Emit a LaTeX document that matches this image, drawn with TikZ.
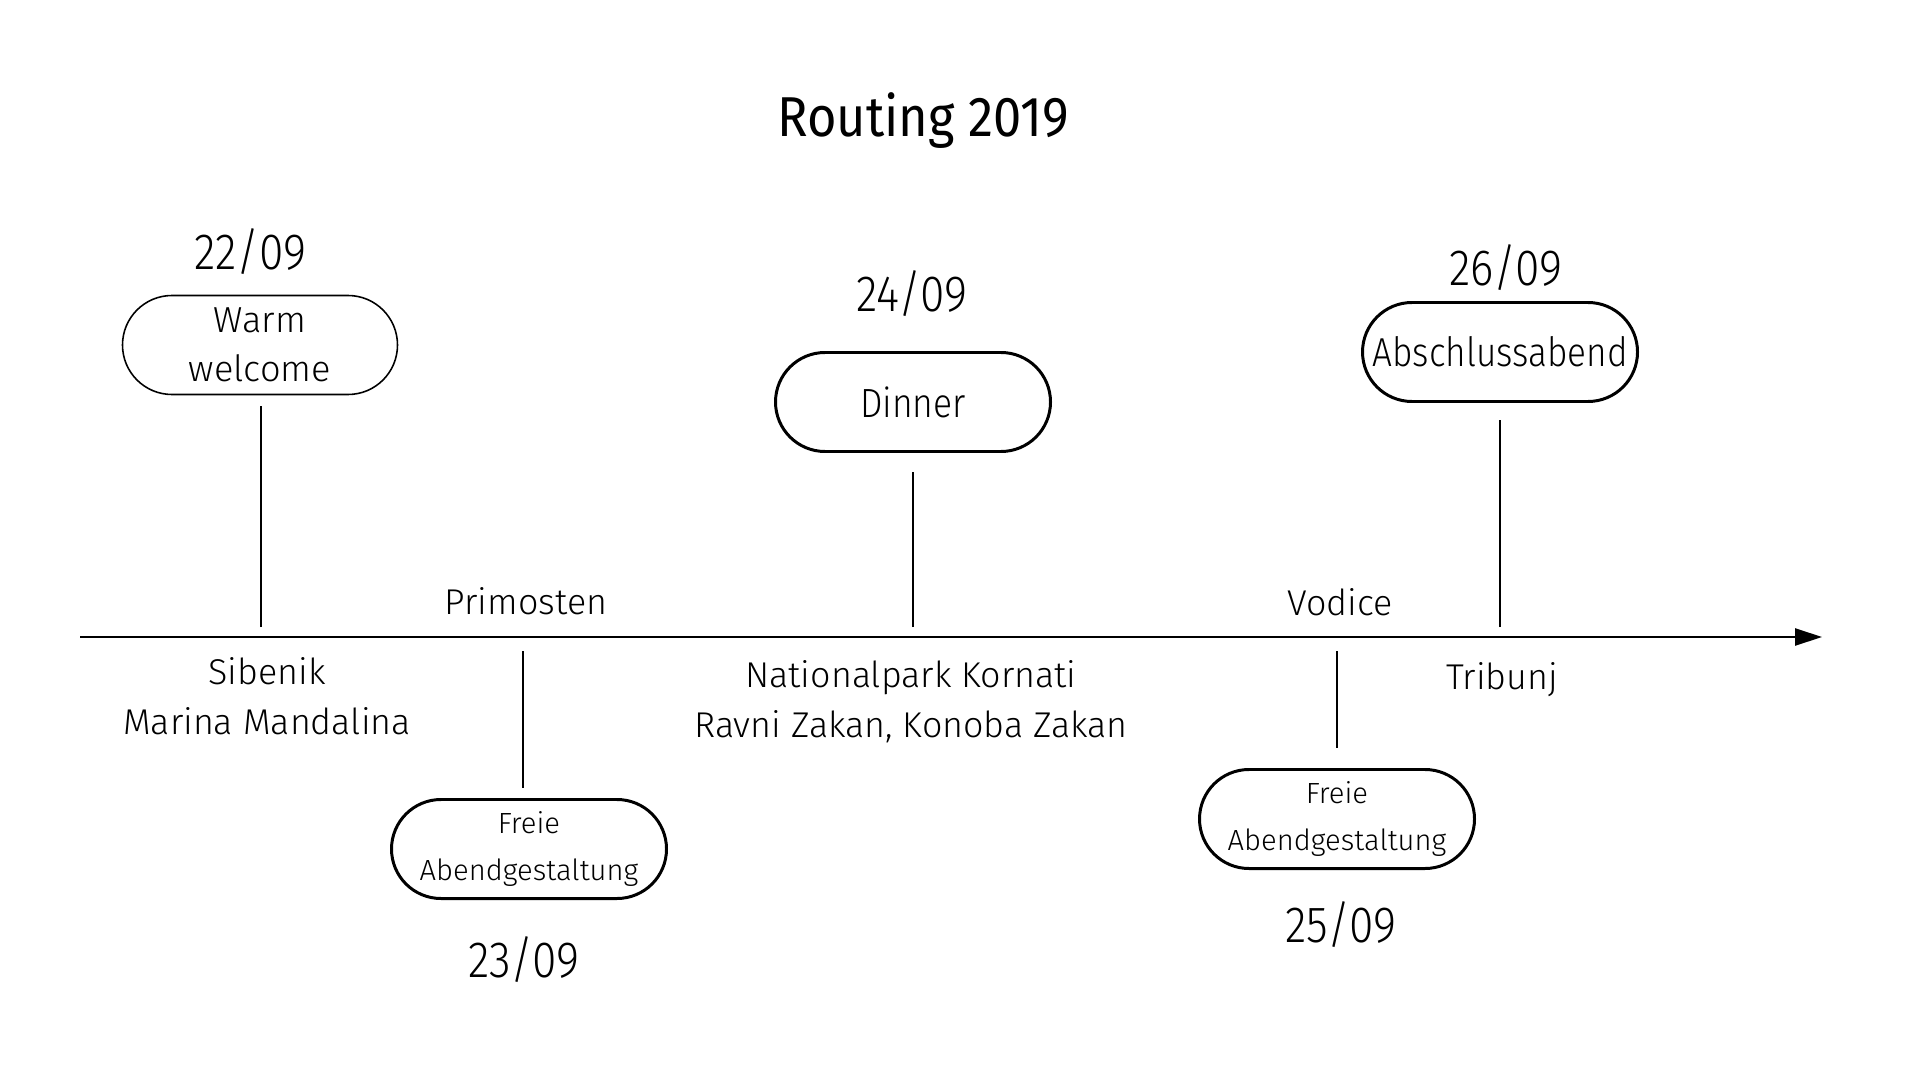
\documentclass[tikz,border=0pt]{standalone}
\usepackage{fontspec}
\setmainfont{Fira Sans Light}
\newfontfamily\titlefont{Fira Sans}[FakeStretch=0.9]
\newfontfamily\narrowfont{Fira Sans Light}[FakeStretch=0.87]
\usetikzlibrary{arrows.meta,shapes.misc}

\tikzset{
  event/.style={draw,rounded rectangle,line width=0.85pt,minimum width=2.75cm,
    minimum height=0.99cm,inner sep=0pt,align=center},
  stem/.style={line width=0.5pt},
  datum/.style={anchor=base,font=\narrowfont\fontsize{14.5}{17}\selectfont},
  place/.style={anchor=base,align=center,font=\fontsize{10.2}{14}\selectfont},
}

\begin{document}
\begin{tikzpicture}
\useasboundingbox (0,0) rectangle (19.2,-10.8);
% title
\node[anchor=base,font=\titlefont\fontsize{16}{19}\selectfont] (title) at (9.23,-1.37) {Routing 2019};

% time axis
\coordinate (start) at (0.80,-6.37);
\coordinate (end) at (18.22,-6.37);
\draw[line width=0.75pt,-{Triangle[length=2.7mm,width=1.7mm]}] (start) -- (end);
\foreach \d/\x in {22/2.61,23/5.23,24/9.13,25/13.37,26/15.00} {
    \coordinate (a\d) at (\x,-6.37);
}

% events above the axis
\node[event,line width=0.45pt,font=\fontsize{10.3}{13.8}\selectfont] (w22) at (2.60,-3.45) {Warm\\welcome};
\node[event,font=\narrowfont\fontsize{11.6}{14}\selectfont] (w24) at (9.13,-4.02) {Dinner};
\node[event,font=\narrowfont\fontsize{11.5}{14}\selectfont] (w26) at (15.00,-3.52) {Abschlussabend};
% events below the axis
\node[event,font=\fontsize{8.3}{13.6}\selectfont] (w23) at (5.29,-8.49) {Freie\\Abendgestaltung};
\node[event,font=\fontsize{8.3}{13.6}\selectfont] (w25) at (13.37,-8.19) {Freie\\Abendgestaltung};

% stems
\draw[stem,shorten <=1mm,shorten >=1.1mm] (a22) -- (a22 |- w22.south);
\draw[stem,shorten <=1mm,shorten >=1.9mm] (a24) -- (a24 |- w24.south);
\draw[stem,shorten <=1mm,shorten >=1.7mm] (a26) -- (a26 |- w26.south);
\draw[stem,shorten <=1.4mm,shorten >=1mm] (a23) -- (a23 |- w23.north);
\draw[stem,shorten <=1.4mm,shorten >=2mm] (a25) -- (a25 |- w25.north);

% dates
\node[datum] (d22) at (2.50,-2.70) {22/09};
\node[datum] (d23) at (5.24,-9.77) {23/09};
\node[datum] (d24) at (9.12,-3.12) {24/09};
\node[datum] (d25) at (13.41,-9.42) {25/09};
\node[datum] (d26) at (15.06,-2.86) {26/09};

% places
\node[place] (p22) at (2.67,-7.34) {Sibenik\\Marina Mandalina};
\node[place] (p23) at (5.26,-6.14) {Primosten};
\node[place] (p24) at (9.11,-7.37) {Nationalpark Kornati\\Ravni Zakan, Konoba Zakan};
\node[place] (p25) at (13.40,-6.15) {Vodice};
\node[place] (p26) at (15.02,-6.89) {Tribunj};
\end{tikzpicture}
\end{document}
